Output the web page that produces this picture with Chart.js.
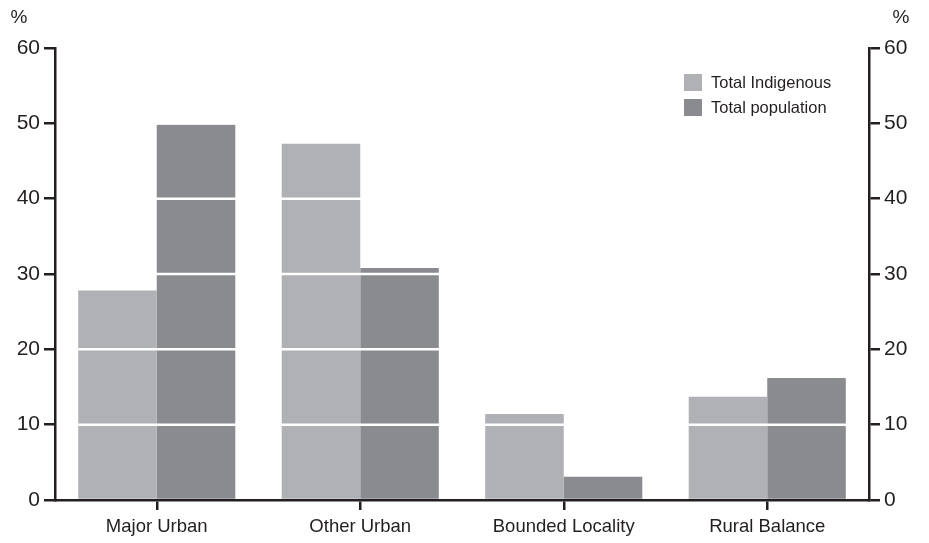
<!DOCTYPE html>
<html>
<head>
<meta charset="utf-8">
<script src="https://cdn.jsdelivr.net/npm/chart.js@4"></script>
<style>
  html, body { margin: 0; padding: 0; background: #fff; }
  #wrap { width: 929px; height: 543px; }
</style>
</head>
<body>
<div id="wrap"><canvas id="chart" width="929" height="543"></canvas></div>
<script>
// data
const categories = ['Major Urban', 'Other Urban', 'Bounded Locality', 'Rural Balance'];
const indigenous = [27.8, 47.3, 11.4, 13.7];
const totalPop = [49.8, 30.8, 3.1, 16.2];
const seriesNames = ['Total Indigenous', 'Total population'];
const yTicks = [0, 10, 20, 30, 40, 50, 60];

const ink = '#231f20';
const lightGrey = '#b0b1b5';
const darkGrey = '#8a8b8f';
const font = "'Liberation Sans', Arial, sans-serif";

// white grid lines painted on top of the bars
const whiteGrid = {
    id: 'whiteGrid',
    afterDatasetsDraw(chart) {
        const ctx = chart.ctx;
        const area = chart.chartArea;
        const y = chart.scales.y;
        ctx.save();
        ctx.strokeStyle = '#ffffff';
        ctx.lineWidth = 2.5;
        yTicks.slice(1, -1).forEach(v => {
            const py = y.getPixelForValue(v);
            ctx.beginPath();
            ctx.moveTo(area.left + 2, py);
            ctx.lineTo(area.right - 2, py);
            ctx.stroke();
        });
        ctx.restore();
    }
};

// legend and the % units
const extras = {
    id: 'extras',
    afterDraw(chart) {
        const ctx = chart.ctx;
        ctx.save();
        ctx.fillStyle = ink;
        ctx.font = '19px ' + font;
        ctx.textAlign = 'center';
        ctx.textBaseline = 'middle';
        ctx.fillText('%', 19, 18);
        ctx.fillText('%', 901, 18);

        ctx.font = '16.5px ' + font;
        ctx.textAlign = 'left';
        chart.data.datasets.forEach((ds, i) => {
            const top = 74 + i * 25;
            ctx.fillStyle = ds.backgroundColor;
            ctx.fillRect(684, top, 18, 17);
            ctx.fillStyle = ink;
            ctx.fillText(ds.label, 711, top + 9);
        });
        ctx.restore();
    }
};

const axisTicks = { color: ink, font: { family: font, size: 21 } };

new Chart(document.getElementById('chart').getContext('2d'), {
    type: 'bar',
    data: {
        labels: categories,
        datasets: [
            { label: seriesNames[0], data: indigenous, backgroundColor: lightGrey },
            { label: seriesNames[1], data: totalPop, backgroundColor: darkGrey }
        ]
    },
    options: {
        responsive: false,
        animation: false,
        devicePixelRatio: 1,
        layout: { padding: { top: 48, left: 0, right: 0, bottom: 0 } },
        datasets: { bar: { categoryPercentage: 0.772, barPercentage: 1, borderWidth: 0 } },
        plugins: { legend: { display: false }, tooltip: { enabled: false } },
        scales: {
            x: {
                offset: true,
                grid: { display: true, offset: false, drawOnChartArea: false, drawTicks: true, tickLength: 10, color: ink, lineWidth: 2.5 },
                border: { display: true, color: ink, width: 2.5 },
                ticks: { color: ink, font: { family: font, size: 18.5 }, padding: 6, maxRotation: 0 },
                afterFit: s => { s.height = 43; }
            },
            y: {
                position: 'left',
                min: 0, max: 60,
                afterBuildTicks: s => { s.ticks = yTicks.map(v => ({ value: v })); },
                grid: { drawOnChartArea: false, drawTicks: true, tickLength: 11, color: ink, lineWidth: 2.5 },
                border: { display: true, color: ink, width: 2.5 },
                ticks: Object.assign({ padding: 4 }, axisTicks),
                afterFit: s => { s.width = 55; }
            },
            y2: {
                position: 'right',
                min: 0, max: 60,
                afterBuildTicks: s => { s.ticks = yTicks.map(v => ({ value: v })); },
                grid: { drawOnChartArea: false, drawTicks: true, tickLength: 11, color: ink, lineWidth: 2.5 },
                border: { display: true, color: ink, width: 2.5 },
                ticks: Object.assign({ padding: 4 }, axisTicks),
                afterFit: s => { s.width = 60; }
            }
        }
    },
    plugins: [whiteGrid, extras]
});
</script>
</body>
</html>
